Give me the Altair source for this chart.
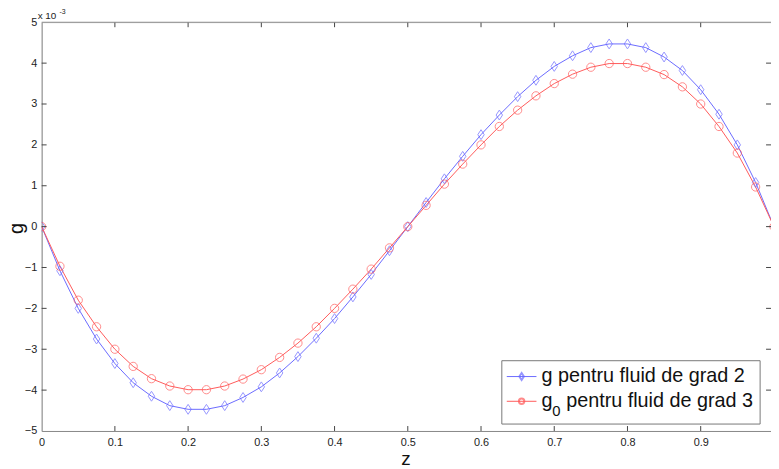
import altair as alt
import pandas as pd

z = [round(i * 0.025, 3) for i in range(41)]
g_blue = [0, -1.08, -2.0, -2.75, -3.35, -3.82, -4.15, -4.38, -4.47, -4.47, -4.38,
          -4.18, -3.92, -3.58, -3.18, -2.73, -2.25, -1.72, -1.17, -0.59, 0,
          0.59, 1.17, 1.72, 2.25, 2.73, 3.18, 3.58, 3.92, 4.18, 4.38,
          4.47, 4.47, 4.38, 4.15, 3.82, 3.35, 2.75, 2.0, 1.08, 0]
g_red = [0, -0.97, -1.8, -2.45, -3.0, -3.42, -3.72, -3.9, -3.99, -3.99, -3.9,
         -3.73, -3.5, -3.2, -2.85, -2.45, -2.0, -1.53, -1.04, -0.52, 0,
         0.52, 1.04, 1.53, 2.0, 2.45, 2.85, 3.2, 3.5, 3.73, 3.9,
         3.99, 3.99, 3.9, 3.72, 3.42, 3.0, 2.45, 1.8, 0.97, 0]
x_ticks = [0, 0.1, 0.2, 0.3, 0.4, 0.5, 0.6, 0.7, 0.8, 0.9]
y_ticks = [-5, -4, -3, -2, -1, 0, 1, 2, 3, 4, 5]
legend_labels = ["g pentru fluid de grad 2", "pentru fluid de grad 3"]

BLUE = "#6a6aff"
RED = "#ff5a5a"
W, H = 737, 413
FONT = "Liberation Sans"

df_b = pd.DataFrame({"z": z, "g": g_blue})
df_r = pd.DataFrame({"z": z, "g": g_red})
one = pd.DataFrame({"k": [0]})

xs = alt.Scale(domain=[0, 0.996], nice=False, zero=False)
ys = alt.Scale(domain=[-5, 5], nice=False, zero=False)

xaxis = alt.Axis(values=x_ticks, format="~g", tickSize=0, grid=False, labelFontSize=11,
                 labelColor="#222", domainColor="#888", labelPadding=6, title="z",
                 titleFontSize=19, titleFontWeight="normal", titleColor="#111",
                 titleX=W / 2 - 1, titleY=34, titleBaseline="alphabetic",
                 labelFlush=False)
yaxis = alt.Axis(values=y_ticks, tickSize=0, grid=False, labelFontSize=11, labelColor="#222",
                 domainColor="#888", labelPadding=5, title="g", titleFontSize=20,
                 titleFontWeight="normal", titleColor="#111", titleX=-25, titleY=208,
                 titleBaseline="middle", titleAngle=-90, labelFlush=False)

diamond = "M0,-1L0.65,0L0,1L-0.65,0Z"

base_x = alt.X("z:Q", scale=xs, axis=xaxis)
base_y = alt.Y("g:Q", scale=ys, axis=yaxis)

line_b = alt.Chart(df_b).mark_line(color=BLUE, strokeWidth=1, clip=True).encode(x=base_x, y=base_y)
pts_b = alt.Chart(df_b).mark_point(shape=diamond, size=100, color=BLUE, filled=False,
                                   strokeWidth=1, clip=True).encode(x="z:Q", y="g:Q")
line_r = alt.Chart(df_r).mark_line(color=RED, strokeWidth=1, clip=True).encode(x="z:Q", y="g:Q")
pts_r = alt.Chart(df_r).mark_point(shape="circle", size=70, color=RED, filled=False,
                                   strokeWidth=1, clip=True).encode(x="z:Q", y="g:Q")

tick_color = "#444"
xt = pd.DataFrame({"z": x_ticks[1:]})
yt = pd.DataFrame({"g": y_ticks[1:-1]})
bottom_ticks = alt.Chart(xt).mark_rule(color=tick_color).encode(
    x="z:Q", y=alt.value(H), y2=alt.value(H - 5))
top_ticks = alt.Chart(xt).mark_rule(color=tick_color).encode(
    x="z:Q", y=alt.value(0), y2=alt.value(5))
left_ticks = alt.Chart(yt).mark_rule(color=tick_color).encode(
    y="g:Q", x=alt.value(0), x2=alt.value(5))
right_ticks = alt.Chart(yt).mark_rule(color=tick_color).encode(
    y="g:Q", x=alt.value(W), x2=alt.value(W - 5))
top_line = alt.Chart(one).mark_rule(color="#888").encode(
    x=alt.value(0), x2=alt.value(W), y=alt.value(0))

exp_txt = alt.Chart(one).mark_text(text="x 10", align="left", baseline="alphabetic",
                                   fontSize=10, font=FONT, color="#222").encode(
    x=alt.value(-4), y=alt.value(-3))
exp_sup = alt.Chart(one).mark_text(text="-3", align="left", baseline="alphabetic",
                                   fontSize=7, font=FONT, color="#222").encode(
    x=alt.value(18), y=alt.value(-8))

# legend
LX0, LY0, LX1, LY1 = 465, 342, 726, 406
leg_box = alt.Chart(one).mark_rect(fill="white", stroke="#777", strokeWidth=1).encode(
    x=alt.value(LX0), x2=alt.value(LX1), y=alt.value(LY0), y2=alt.value(LY1))
leg_line_b = alt.Chart(one).mark_rule(color=BLUE).encode(
    x=alt.value(LX0 + 5), x2=alt.value(LX0 + 35), y=alt.value(LY0 + 16))
leg_line_r = alt.Chart(one).mark_rule(color=RED).encode(
    x=alt.value(LX0 + 5), x2=alt.value(LX0 + 35), y=alt.value(LY0 + 41))
leg_pt_b = alt.Chart(one).mark_point(shape=diamond, size=50, color=BLUE, filled=False).encode(
    x=alt.value(LX0 + 20), y=alt.value(LY0 + 16))
leg_pt_r = alt.Chart(one).mark_point(shape="circle", size=30, color=RED, filled=False).encode(
    x=alt.value(LX0 + 20), y=alt.value(LY0 + 41))
leg_t1 = alt.Chart(one).mark_text(text=legend_labels[0], align="left", baseline="middle",
                                  fontSize=20, font=FONT, color="#111").encode(
    x=alt.value(LX0 + 40), y=alt.value(LY0 + 16))
leg_g = alt.Chart(one).mark_text(text="g", align="left", baseline="middle",
                                 fontSize=20, font=FONT, color="#111").encode(
    x=alt.value(LX0 + 40), y=alt.value(LY0 + 41))
leg_sub = alt.Chart(one).mark_text(text="0", align="left", baseline="middle",
                                   fontSize=15, font=FONT, color="#111").encode(
    x=alt.value(LX0 + 51), y=alt.value(LY0 + 51))
leg_t2 = alt.Chart(one).mark_text(text=legend_labels[1], align="left", baseline="middle",
                                  fontSize=20, font=FONT, color="#111").encode(
    x=alt.value(LX0 + 65), y=alt.value(LY0 + 41))

chart = alt.layer(
    line_b, line_r, pts_b, pts_r,
    bottom_ticks, top_ticks, left_ticks, right_ticks, top_line,
    exp_txt, exp_sup,
    leg_box, leg_line_b, leg_line_r, leg_pt_b, leg_pt_r, leg_t1, leg_g, leg_sub, leg_t2,
).properties(
    width=W, height=H,
    autosize=alt.AutoSizeParams(type="none"),
    padding={"left": 34, "top": 12, "right": 0, "bottom": 36},
).configure_view(stroke=None).configure(font=FONT).configure_axis(
    labelFont=FONT, titleFont=FONT)

chart.save("out.html", embed_options={"renderer": "svg", "actions": False})
